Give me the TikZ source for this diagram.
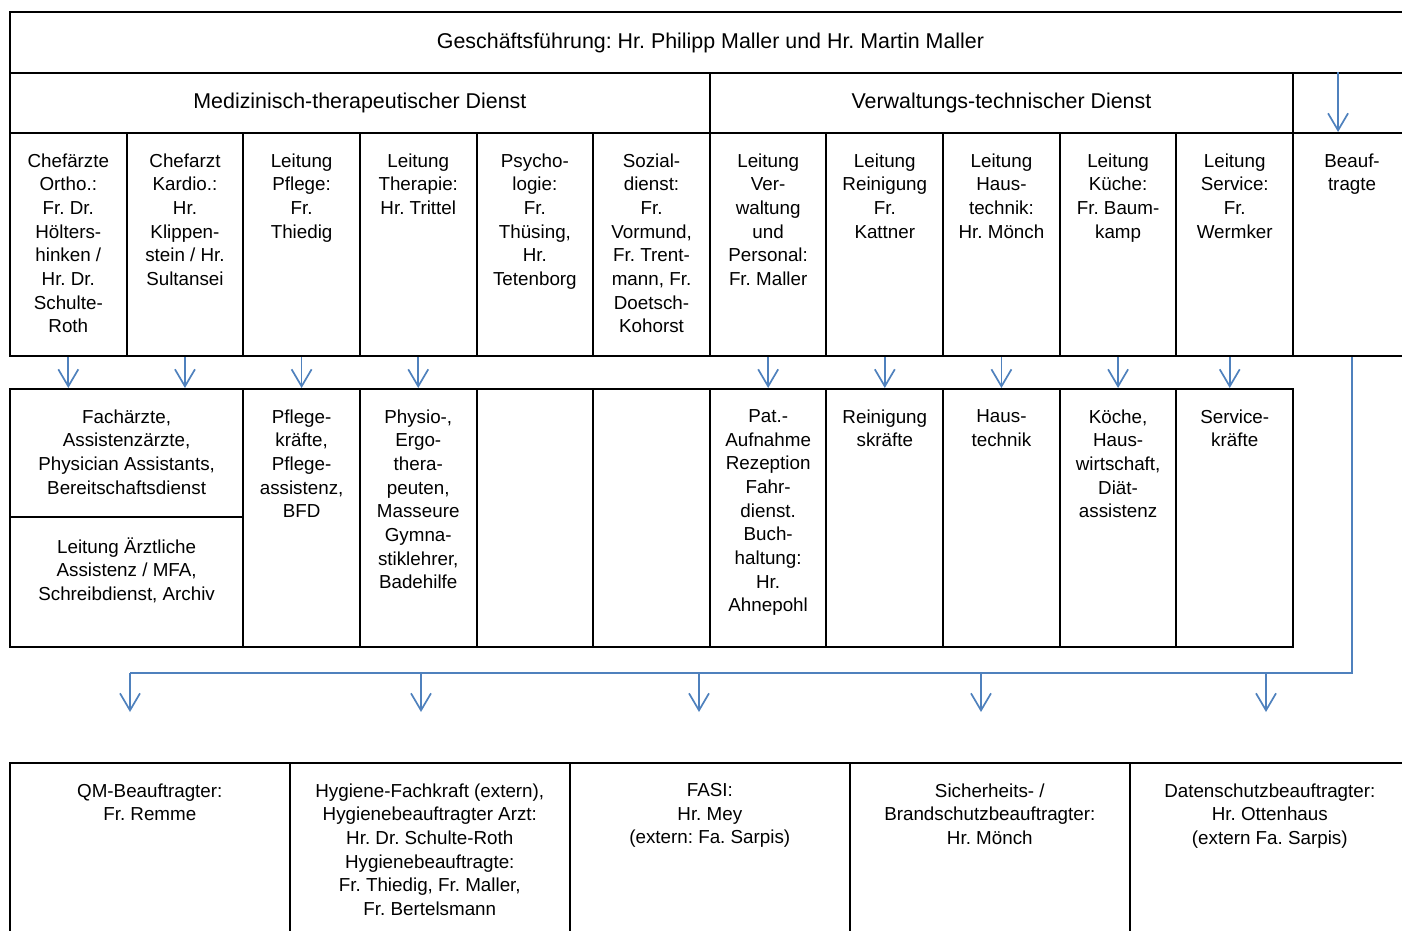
\documentclass[tikz,border=0pt]{standalone}
\usepackage{fontspec}
\setmainfont{Liberation Sans}
\frenchspacing
\usetikzlibrary{positioning,arrows.meta}
\definecolor{linkblue}{RGB}{79,129,189}

\begin{document}
\begin{tikzpicture}[x=0.5pt,y=-0.5pt,
		cell/.style={draw,line width=1pt,inner sep=0pt,anchor=north west},
		col/.style={cell,minimum width=58.32pt,minimum height=111.5pt},
		sub/.style={cell,minimum width=58.32pt,minimum height=129pt},
		duty/.style={cell,line width=0.8pt,minimum width=140pt,minimum height=92pt},
		head/.style={align=center,inner sep=0pt,font=\fontsize{10.7}{11.85}\selectfont},
		txt/.style={align=center,inner sep=0pt,font=\fontsize{9.4}{11.85}\selectfont},
		link/.style={draw=linkblue,line width=0.85pt,-{Straight Barb[length=8.5pt,width=10pt,line width=0.85pt]}},
		bus/.style={draw=linkblue,line width=0.9pt}]
		\useasboundingbox (0,0) rectangle (1402,931);
		\clip (0,0) rectangle (1402,931);

		% management and services
		\node[cell,minimum width=700.5pt,minimum height=30.5pt] (gf) at (9,11) {};
		\node[head] (gf_t) at (gf.center) {Geschäftsführung: Hr. Philipp Maller und Hr. Martin Maller};
		\node[cell,minimum width=349.92pt,minimum height=30pt] (med) at (9,72) {};
		\node[head] (med_t) at (med.center) {Medizinisch-therapeutischer Dienst};
		\node[cell,minimum width=291.6pt,minimum height=30pt] (verw) at (708.84,72) {};
		\node[head] (verw_t) at (verw.center) {Verwaltungs-technischer Dienst};
		\node[cell,minimum width=59pt,minimum height=30pt] (beauf_top) at (1292.04,72) {};

		% heads
		\node[col] (chef_ortho) at (9,132) {};
		\node[col] (chef_kardio) at (125.64,132) {};
		\node[col] (lt_pflege) at (242.28,132) {};
		\node[col] (lt_therapie) at (358.92,132) {};
		\node[col] (psycho) at (475.56,132) {};
		\node[col] (sozial) at (592.2,132) {};
		\node[col] (lt_verw) at (708.84,132) {};
		\node[col] (lt_rein) at (825.48,132) {};
		\node[col] (lt_haus) at (942.12,132) {};
		\node[col] (lt_kueche) at (1058.76,132) {};
		\node[col] (lt_service) at (1175.4,132) {};
		\node[col,minimum width=59pt] (beauf) at (1292.04,132) {};
		\node[txt,below=10.5pt of chef_ortho.north] (chef_ortho_t) {Chefärzte\\Ortho.:\\Fr. Dr.\\Hölters-\\hinken /\\Hr. Dr.\\Schulte-\\Roth};
		\node[txt,below=10.5pt of chef_kardio.north] (chef_kardio_t) {Chefarzt\\Kardio.:\\Hr.\\Klippen-\\stein / Hr.\\Sultansei};
		\node[txt,below=10.5pt of lt_pflege.north] (lt_pflege_t) {Leitung\\Pflege:\\Fr.\\Thiedig};
		\node[txt,below=10.5pt of lt_therapie.north] (lt_therapie_t) {Leitung\\Therapie:\\Hr. Trittel};
		\node[txt,below=10.5pt of psycho.north] (psycho_t) {Psycho-\\logie:\\Fr.\\Thüsing,\\Hr.\\Tetenborg};
		\node[txt,below=10.5pt of sozial.north] (sozial_t) {Sozial-\\dienst:\\Fr.\\Vormund,\\Fr. Trent-\\mann, Fr.\\Doetsch-\\Kohorst};
		\node[txt,below=10.5pt of lt_verw.north] (lt_verw_t) {Leitung\\Ver-\\waltung\\und\\Personal:\\Fr. Maller};
		\node[txt,below=10.5pt of lt_rein.north] (lt_rein_t) {Leitung\\Reinigung\\Fr.\\Kattner};
		\node[txt,below=10.5pt of lt_haus.north] (lt_haus_t) {Leitung\\Haus-\\technik:\\Hr. Mönch};
		\node[txt,below=10.5pt of lt_kueche.north] (lt_kueche_t) {Leitung\\Küche:\\Fr. Baum-\\kamp};
		\node[txt,below=10.5pt of lt_service.north] (lt_service_t) {Leitung\\Service:\\Fr.\\Wermker};
		\node[txt,below=10.5pt of beauf.north] (beauf_t) {Beauf-\\tragte};

		% staff
		\node[cell,minimum width=116.64pt,minimum height=64pt] (fach) at (9,388) {};
		\node[cell,minimum width=116.64pt,minimum height=65pt] (mfa) at (9,516) {};
		\node[sub] (pflege) at (242.28,388) {};
		\node[sub] (therapie) at (358.92,388) {};
		\node[sub] (psycho_sub) at (475.56,388) {};
		\node[sub] (sozial_sub) at (592.2,388) {};
		\node[sub] (verw_sub) at (708.84,388) {};
		\node[sub] (rein) at (825.48,388) {};
		\node[sub] (haus) at (942.12,388) {};
		\node[sub] (kueche) at (1058.76,388) {};
		\node[sub] (service) at (1175.4,388) {};
		\node[txt,below=10.5pt of fach.north] (fach_t) {Fachärzte,\\Assistenzärzte,\\Physician Assistants,\\Bereitschaftsdienst};
		\node[txt,below=10.5pt of mfa.north] (mfa_t) {Leitung Ärztliche\\Assistenz / MFA,\\Schreibdienst, Archiv};
		\node[txt,below=10.5pt of pflege.north] (pflege_t) {Pflege-\\kräfte,\\Pflege-\\assistenz,\\BFD};
		\node[txt,below=10.5pt of therapie.north] (therapie_t) {Physio-,\\Ergo-\\thera-\\peuten,\\Masseure\\Gymna-\\stiklehrer,\\Badehilfe};
		\node[txt,below=10.5pt of verw_sub.north] (verw_sub_t) {Pat.-\\Aufnahme\\Rezeption\\Fahr-\\dienst.\\Buch-\\haltung:\\Hr.\\Ahnepohl};
		\node[txt,below=10.5pt of rein.north] (rein_t) {Reinigung\\skräfte};
		\node[txt,below=10.5pt of haus.north] (haus_t) {Haus-\\technik};
		\node[txt,below=10.5pt of kueche.north] (kueche_t) {Köche,\\Haus-\\wirtschaft,\\Diät-\\assistenz};
		\node[txt,below=10.5pt of service.north] (service_t) {Service-\\kräfte};

		% officers
		\node[duty] (qm) at (9,762) {};
		\node[duty] (hygiene) at (289,762) {};
		\node[duty] (fasi) at (569,762) {};
		\node[duty] (brand) at (849,762) {};
		\node[duty] (daten) at (1129,762) {};
		\node[txt,below=10.5pt of qm.north] (qm_t) {QM-Beauftragter:\\Fr. Remme};
		\node[txt,below=10.5pt of hygiene.north] (hygiene_t) {Hygiene-Fachkraft (extern),\\Hygienebeauftragter Arzt:\\Hr. Dr. Schulte-Roth\\Hygienebeauftragte:\\Fr. Thiedig, Fr. Maller,\\Fr. Bertelsmann};
		\node[txt,below=10.5pt of fasi.north] (fasi_t) {FASI:\\Hr. Mey\\(extern: Fa. Sarpis)};
		\node[txt,below=10.5pt of brand.north] (brand_t) {Sicherheits- /\\Brandschutzbeauftragter:\\Hr. Mönch};
		\node[txt,below=10.5pt of daten.north] (daten_t) {Datenschutzbeauftragter:\\Hr. Ottenhaus\\(extern Fa. Sarpis)};

		\draw[link] ([xshift=-7pt]beauf_top.north) -- ([xshift=-7pt]beauf.north);
		\draw[link] (chef_ortho.south) -- (chef_ortho.south |- fach.north);
		\draw[link] (chef_kardio.south) -- (chef_kardio.south |- fach.north);
		\draw[link] (lt_pflege.south) -- (pflege.north);
		\draw[link] (lt_therapie.south) -- (therapie.north);
		\draw[link] (lt_verw.south) -- (verw_sub.north);
		\draw[link] (lt_rein.south) -- (rein.north);
		\draw[link] (lt_haus.south) -- (haus.north);
		\draw[link] (lt_kueche.south) -- (kueche.north);
		\draw[link] ([xshift=-2.5pt]lt_service.south) -- ([xshift=-2.5pt]service.north);

		\coordinate (drop_qm) at (130,673);
		\coordinate (drop_hygiene) at (421,673);
		\coordinate (drop_fasi) at (699,673);
		\coordinate (drop_brand) at (981,673);
		\coordinate (drop_daten) at (1266,673);
		\draw[bus] (beauf.south) |- (drop_qm);
		\draw[link] (drop_qm) -- ++(0,39);
		\draw[link] (drop_hygiene) -- ++(0,39);
		\draw[link] (drop_fasi) -- ++(0,39);
		\draw[link] (drop_brand) -- ++(0,39);
		\draw[link] (drop_daten) -- ++(0,39);
	\end{tikzpicture}
\end{document}
